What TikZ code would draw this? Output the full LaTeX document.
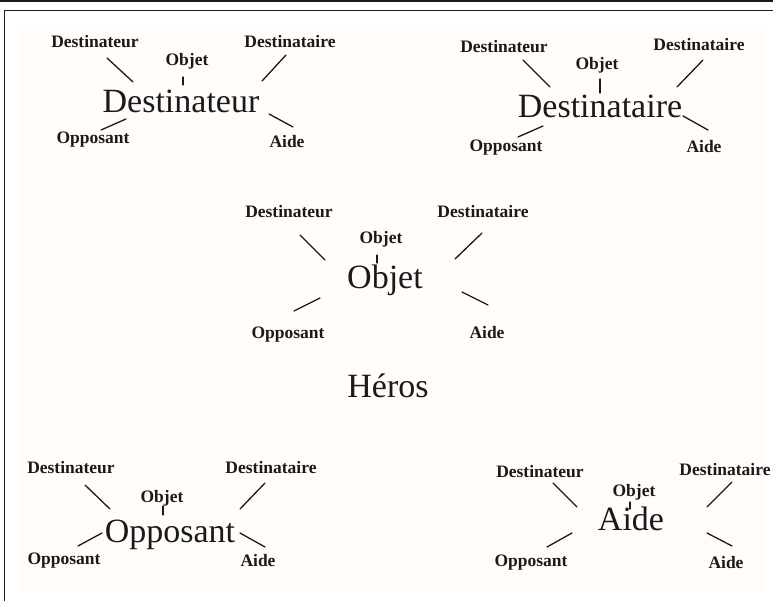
\documentclass[tikz,border=0pt]{standalone}
\usepackage{fontspec}
\setmainfont{Liberation Serif}
\definecolor{ScanInk}{HTML}{1A1A1A}
\definecolor{ScanPaper}{HTML}{FFFCFA}
\usetikzlibrary{positioning}

\tikzset{
  actant/.style={font=\fontsize{34}{36}\selectfont, text=ScanInk, inner sep=0pt, anchor=base},
  role/.style={font=\bfseries\fontsize{17.5}{19}\selectfont, text=ScanInk, inner sep=0pt, anchor=base},
  tick/.style={draw=ScanInk, line width=1.3pt, line cap=round},
  frame/.style={draw=ScanInk, line width=1.2pt}
}

\begin{document}
\begin{tikzpicture}[x=1pt, y=-1pt]
  \useasboundingbox (0,0) rectangle (773,601);
  % scanned page and frame
  \fill[ScanPaper] (20,27) rectangle (765,592);
  \fill[ScanInk] (0,0) rectangle (773,2);
  \draw[frame] (773,10.5) -- (4.5,10.5) -- (4.5,601);

  % Destinateur
  \node[actant] (c1) at (181,113) {Destinateur};
  \node[role] (d1l) at (95,48) {Destinateur};
  \node[role] (o1) at (187,66) {Objet};
  \node[role] (d1r) at (290,48) {Destinataire};
  \node[role] (p1) at (93,144) {Opposant};
  \node[role] (a1) at (287,148) {Aide};
  \coordinate (s1a) at (107,58);  \coordinate (e1a) at (133,82);
  \coordinate (s1b) at (183,77);  \coordinate (e1b) at (183,85);
  \coordinate (s1c) at (286,55);  \coordinate (e1c) at (262,81);
  \coordinate (s1d) at (126,119); \coordinate (e1d) at (101,130);
  \coordinate (s1e) at (269,114); \coordinate (e1e) at (293,127);
  \draw[tick] (s1a) -- (e1a);
  \draw[tick] (s1b) -- (e1b);
  \draw[tick] (s1c) -- (e1c);
  \draw[tick] (s1d) -- (e1d);
  \draw[tick] (s1e) -- (e1e);

  % Destinataire
  \node[actant] (c2) at (600,118) {Destinataire};
  \node[role] (d2l) at (504,53) {Destinateur};
  \node[role] (o2) at (597,70) {Objet};
  \node[role] (d2r) at (699,51) {Destinataire};
  \node[role] (p2) at (506,152) {Opposant};
  \node[role] (a2) at (704,153) {Aide};
  \coordinate (s2a) at (523,60);  \coordinate (e2a) at (550,87);
  \coordinate (s2b) at (600,79);  \coordinate (e2b) at (600,93);
  \coordinate (s2c) at (703,60);  \coordinate (e2c) at (677,87);
  \coordinate (s2d) at (543,126); \coordinate (e2d) at (518,137);
  \coordinate (s2e) at (683,116); \coordinate (e2e) at (708,130);
  \draw[tick] (s2a) -- (e2a);
  \draw[tick] (s2b) -- (e2b);
  \draw[tick] (s2c) -- (e2c);
  \draw[tick] (s2d) -- (e2d);
  \draw[tick] (s2e) -- (e2e);

  % Objet
  \node[actant] (c3) at (385,289) {Objet};
  \node[role] (d3l) at (289,218) {Destinateur};
  \node[role] (o3) at (381,244) {Objet};
  \node[role] (d3r) at (483,218) {Destinataire};
  \node[role] (p3) at (288,338) {Opposant};
  \node[role] (a3) at (487,338) {Aide};
  \coordinate (s3a) at (300,235); \coordinate (e3a) at (325,260);
  \coordinate (s3b) at (377,255); \coordinate (e3b) at (377,263);
  \coordinate (s3c) at (482,233); \coordinate (e3c) at (455,259);
  \coordinate (s3d) at (320,298); \coordinate (e3d) at (294,311);
  \coordinate (s3e) at (462,292); \coordinate (e3e) at (488,305);
  \draw[tick] (s3a) -- (e3a);
  \draw[tick] (s3b) -- (e3b);
  \draw[tick] (s3c) -- (e3c);
  \draw[tick] (s3d) -- (e3d);
  \draw[tick] (s3e) -- (e3e);

  \node[actant] (hero) at (388,397) {Héros};

  % Opposant
  \node[actant] (c4) at (170,542) {Opposant};
  \node[role] (d4l) at (71,473) {Destinateur};
  \node[role] (o4) at (162,502) {Objet};
  \node[role] (d4r) at (271,473) {Destinataire};
  \node[role] (p4) at (64,564) {Opposant};
  \node[role] (a4) at (258,566) {Aide};
  \coordinate (s4a) at (85,485);  \coordinate (e4a) at (110,509);
  \coordinate (s4b) at (163,506); \coordinate (e4b) at (163,515);
  \coordinate (s4c) at (265,483); \coordinate (e4c) at (240,509);
  \coordinate (s4d) at (102,533); \coordinate (e4d) at (78,546);
  \coordinate (s4e) at (240,533); \coordinate (e4e) at (265,547);
  \draw[tick] (s4a) -- (e4a);
  \draw[tick] (s4b) -- (e4b);
  \draw[tick] (s4c) -- (e4c);
  \draw[tick] (s4d) -- (e4d);
  \draw[tick] (s4e) -- (e4e);

  % Aide
  \node[actant] (c5) at (631,530) {Aide};
  \node[role] (d5l) at (540,477) {Destinateur};
  \node[role] (o5) at (634,496) {Objet};
  \node[role] (d5r) at (725,475) {Destinataire};
  \node[role] (p5) at (531,566) {Opposant};
  \node[role] (a5) at (726,568) {Aide};
  \coordinate (s5a) at (553,483); \coordinate (e5a) at (577,507);
  \coordinate (s5b) at (630,502); \coordinate (e5b) at (630,509);
  \coordinate (s5c) at (732,482); \coordinate (e5c) at (707,507);
  \coordinate (s5d) at (572,533); \coordinate (e5d) at (547,547);
  \coordinate (s5e) at (707,533); \coordinate (e5e) at (732,546);
  \draw[tick] (s5a) -- (e5a);
  \draw[tick] (s5b) -- (e5b);
  \draw[tick] (s5c) -- (e5c);
  \draw[tick] (s5d) -- (e5d);
  \draw[tick] (s5e) -- (e5e);
\end{tikzpicture}
\end{document}
